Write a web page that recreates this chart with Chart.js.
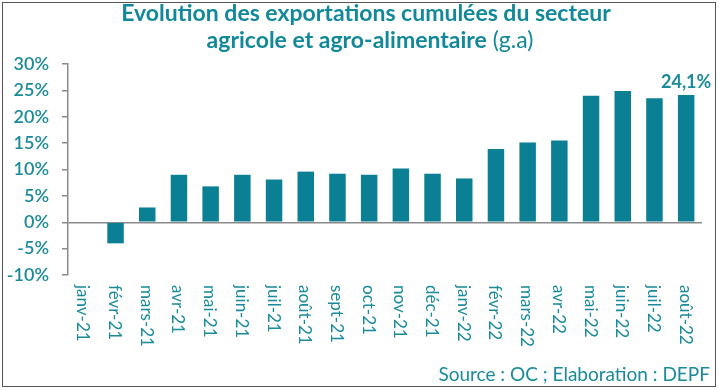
<!DOCTYPE html>
<html>
<head>
<meta charset="utf-8">
<script src="https://cdn.jsdelivr.net/npm/chart.js@4"></script>
<style>
  html, body { margin: 0; padding: 0; background: #fff; }
  #wrap { position: relative; width: 719px; height: 390px; }
  #frame { position: absolute; left: 2px; top: 2px; width: 712px; height: 383px; border: 1.5px solid #555; pointer-events: none; }
</style>
</head>
<body>
<div id="wrap">
  <canvas id="exportChart" width="719" height="390"></canvas>
  <div id="frame"></div>
</div>
<script>
const months = ["janv-21", "févr-21", "mars-21", "avr-21", "mai-21", "juin-21", "juil-21", "août-21",
  "sept-21", "oct-21", "nov-21", "déc-21", "janv-22", "févr-22", "mars-22", "avr-22",
  "mai-22", "juin-22", "juil-22", "août-22"];
const growth = [0, -4.0, 2.8, 9.0, 6.8, 9.0, 8.1, 9.6, 9.2, 9.0, 10.2, 9.2, 8.3, 13.9, 15.1, 15.5, 24.0, 24.9, 23.5, 24.1];
const lastLabel = "24,1%";
const titleLine1 = "Evolution des exportations cumulées du secteur";
const titleLine2 = "agricole et agro-alimentaire";
const titleSuffix = " (g.a)";
const sourceText = "Source : OC ; Elaboration : DEPF";

const teal = "#0b7f94";
const textTeal = "#1a8b9b";
const titleTeal = "#12899a";
const axisGrey = "#8a8a8a";

// title (mixed weights), month labels (top to bottom), last value and source
const extrasPlugin = {
  id: "extras",
  afterDraw(chart) {
    const ctx = chart.ctx;
    const x = chart.scales.x;
    ctx.save();

    ctx.fillStyle = titleTeal;
    ctx.textBaseline = "alphabetic";
    ctx.font = "bold 23px Lato";
    ctx.textAlign = "center";
    ctx.fillText(titleLine1, 366, 21);
    const w1 = ctx.measureText(titleLine2).width;
    ctx.font = "23px Lato";
    const w2 = ctx.measureText(titleSuffix).width;
    const start = 370 - (w1 + w2) / 2;
    ctx.textAlign = "left";
    ctx.fillText(titleSuffix, start + w1, 48);
    ctx.font = "bold 23px Lato";
    ctx.fillText(titleLine2, start, 48);

    ctx.fillStyle = textTeal;
    ctx.font = "17px Lato";
    ctx.textAlign = "left";
    ctx.textBaseline = "middle";
    months.forEach((m, i) => {
      ctx.save();
      ctx.translate(x.getPixelForValue(i) - 1, chart.chartArea.bottom + 10);
      ctx.rotate(Math.PI / 2);
      ctx.fillText(m, 0, 0);
      ctx.restore();
    });

    const bars = chart.getDatasetMeta(0).data;
    const last = bars[bars.length - 1];
    ctx.font = "bold 18px Lato";
    ctx.textAlign = "center";
    ctx.textBaseline = "bottom";
    ctx.fillText(lastLabel, last.x, last.y - 4);

    ctx.font = "19px Lato";
    ctx.textAlign = "right";
    ctx.textBaseline = "alphabetic";
    ctx.fillText(sourceText, 710, 381);
    ctx.restore();
  }
};

new Chart(document.getElementById("exportChart"), {
  type: "bar",
  data: {
    labels: months,
    datasets: [{ data: growth, backgroundColor: teal, barPercentage: 0.52, categoryPercentage: 1 }]
  },
  options: {
    responsive: false,
    animation: false,
    layout: { padding: { left: 0, right: 17, top: 64, bottom: 0 } },
    plugins: {
      legend: { display: false },
      tooltip: { enabled: false },
      title: { display: false }
    },
    scales: {
      x: {
        ticks: { display: false },
        grid: { display: false },
        border: { display: false },
        afterFit(scale) { scale.height = 115; }
      },
      y: {
        min: -10,
        max: 30,
        ticks: {
          stepSize: 5,
          color: textTeal,
          font: { family: "Lato", size: 18, weight: "600" },
          padding: 13,
          callback: v => v + "%"
        },
        grid: {
          color: ctx => ctx.tick && ctx.tick.value === 0 ? axisGrey : "rgba(0,0,0,0)",
          lineWidth: 1.5,
          tickColor: axisGrey,
          tickLength: 6
        },
        border: { display: true, color: axisGrey, width: 1.5 },
        afterFit(scale) { scale.width = 68; }
      }
    }
  },
  plugins: [extrasPlugin]
});
</script>
</body>
</html>
